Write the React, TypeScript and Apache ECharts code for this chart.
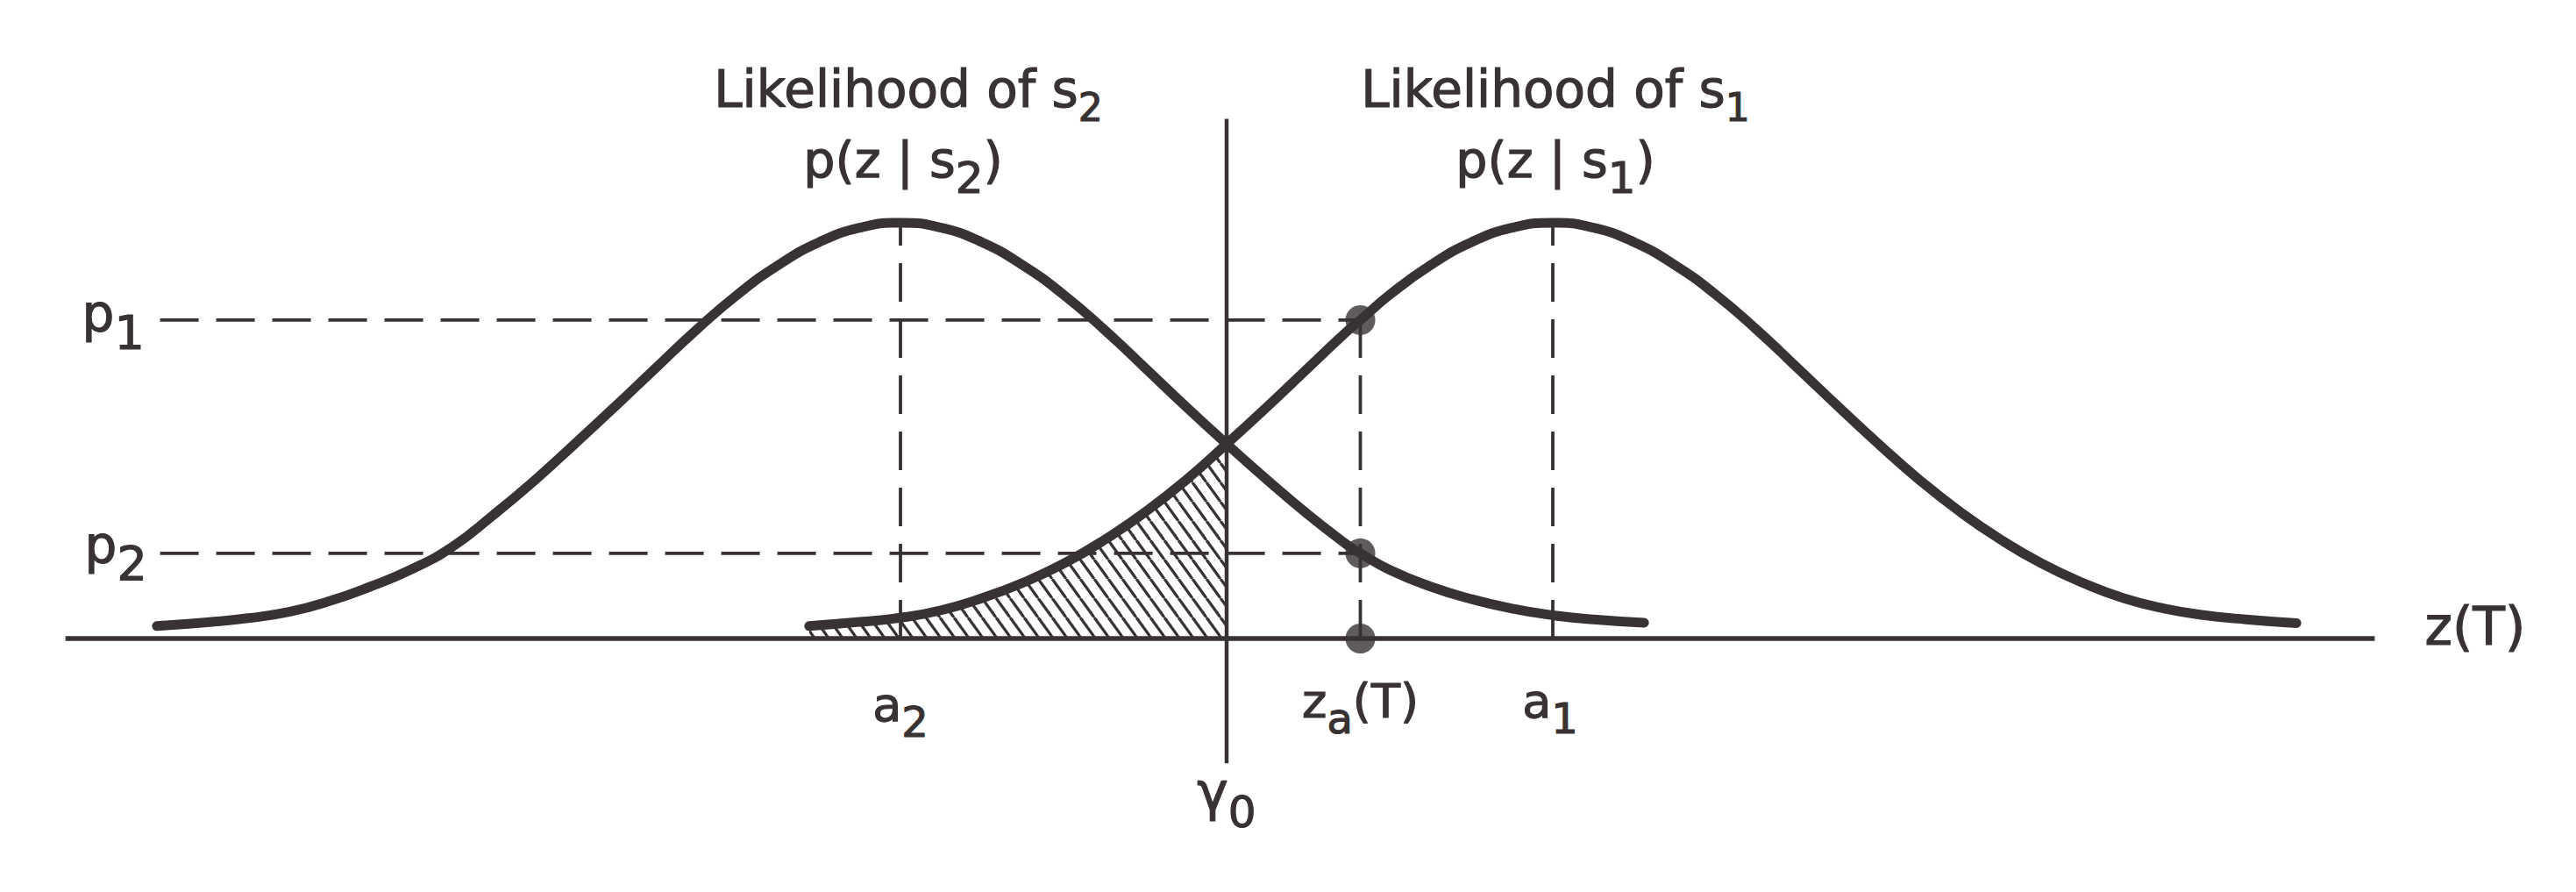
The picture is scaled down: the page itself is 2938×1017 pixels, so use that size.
import React, { useEffect, useRef } from 'react';
import * as echarts from 'echarts';

const INK = '#383233';
const FONT = '"DejaVu Sans", "Liberation Sans", sans-serif';

// decision axis z(T): threshold gamma0 = 0, means a2 = -1, a1 = +1
const A2 = -1.0;
const A1 = 1.0;
const GAMMA0 = 0;
const ZA = 0.41;
const P1 = 0.766;
const P2 = 0.205;
const PEAK = 1.0;

// likelihood of s2, p(z|s2)
const S2_Z = [-3.28, -3.125, -3.0, -2.875, -2.75, -2.625, -2.5, -2.375, -2.25, -2.125, -2.0, -1.875, -1.75, -1.625, -1.5, -1.375, -1.25, -1.125, -1.0, -0.875, -0.75, -0.625, -0.5, -0.375, -0.25, -0.125, 0, 0.125, 0.25, 0.375, 0.41, 0.5, 0.625, 0.75, 0.875, 1.0, 1.125, 1.28];
const S2_P = [0.030, 0.039, 0.049, 0.064, 0.090, 0.125, 0.166, 0.220, 0.296, 0.378, 0.467, 0.558, 0.651, 0.743, 0.827, 0.898, 0.953, 0.988, 1.0, 0.988, 0.953, 0.898, 0.827, 0.743, 0.651, 0.558, 0.468, 0.381, 0.298, 0.222, 0.205, 0.165, 0.125, 0.095, 0.072, 0.056, 0.046, 0.038];
// likelihood of s1, p(z|s1)
const S1_Z = [-1.28, -1.125, -1.0, -0.875, -0.75, -0.625, -0.5, -0.375, -0.25, -0.125, 0, 0.125, 0.25, 0.375, 0.41, 0.5, 0.625, 0.75, 0.875, 1.0, 1.125, 1.25, 1.375, 1.5, 1.625, 1.75, 1.875, 2.0, 2.125, 2.25, 2.375, 2.5, 2.625, 2.75, 2.875, 3.0, 3.125, 3.28];
const S1_P = [0.030, 0.040, 0.050, 0.068, 0.097, 0.134, 0.180, 0.237, 0.304, 0.381, 0.468, 0.558, 0.651, 0.743, 0.766, 0.827, 0.898, 0.953, 0.988, 1.0, 0.988, 0.953, 0.898, 0.827, 0.743, 0.651, 0.558, 0.467, 0.381, 0.304, 0.237, 0.180, 0.134, 0.097, 0.072, 0.056, 0.046, 0.037];

// drawn axis extents
const Z_AXIS = [-3.56, 3.52];
const GAMMA_LINE = [-0.3, 1.25];
const P_LINE_START = -3.27;

// label texts: [main, subscript, tail]
const TITLE_S2 = ['Likelihood of s', '2', ''];
const TITLE_S1 = ['Likelihood of s', '1', ''];
const PDF_S2 = ['p(z | s', '2', ')'];
const PDF_S1 = ['p(z | s', '1', ')'];
const LBL_P1 = ['p', '1', ''];
const LBL_P2 = ['p', '2', ''];
const LBL_A2 = ['a', '2', ''];
const LBL_A1 = ['a', '1', ''];
const LBL_ZA = ['z', 'a', '(T)'];
const LBL_G0 = ['\u03B3', '0', ''];
const LBL_Z = ['z(T)', '', ''];

const pairs = (xs: number[], ys: number[]) => xs.map((x, i) => [x, ys[i]]);

const HATCH_W = 16;
const HATCH_H = 22;
function makeHatch() {
  const w = HATCH_W;
  const h = HATCH_H;
  const c = document.createElement('canvas');
  c.width = w;
  c.height = h;
  const ctx = c.getContext('2d')!;
  ctx.strokeStyle = INK;
  ctx.lineWidth = 3.3;
  for (const dx of [-w, 0, w]) {
    ctx.beginPath();
    ctx.moveTo(dx, 0);
    ctx.lineTo(dx + w, h);
    ctx.stroke();
  }
  return c;
}

const measureCanvas = typeof document !== 'undefined' ? document.createElement('canvas') : null;
function textWidth(t: string, size: number) {
  if (!t) return 0;
  const ctx = measureCanvas!.getContext('2d')!;
  ctx.font = `${size}px ${FONT}`;
  return ctx.measureText(t).width;
}

type LabelSpec = {
  parts: string[];
  main: number;
  sub: number;
  subDy: number;
  x: number;
  baseline: number;
  align: 'center' | 'left';
};

function buildLabel(spec: LabelSpec) {
  const segs = [
    { t: spec.parts[0], size: spec.main, dy: 0 },
    { t: spec.parts[1], size: spec.sub, dy: spec.subDy },
    { t: spec.parts[2], size: spec.main, dy: 0 },
  ].filter((s) => s.t);
  const widths = segs.map((s) => textWidth(s.t, s.size));
  const total = widths.reduce((a, b) => a + b, 0);
  let x = spec.align === 'center' ? spec.x - total / 2 : spec.x;
  return segs.map((s, i) => {
    const el = {
      type: 'text',
      x,
      y: spec.baseline + s.dy - 0.35 * s.size,
      silent: true,
      style: {
        text: s.t,
        font: `${s.size}px ${FONT}`,
        fill: INK,
        stroke: INK,
        lineWidth: 1.2,
        align: 'left',
        verticalAlign: 'middle',
        textAlign: 'left',
        textVerticalAlign: 'middle',
      },
    };
    x += widths[i];
    return el;
  });
}

export default function App() {
  const ref = useRef<HTMLDivElement>(null);

  useEffect(() => {
    document.body.style.margin = '0';
    document.body.style.overflow = 'hidden';
    const chart = echarts.init(ref.current!, undefined, { renderer: 'svg' });

    const s1 = pairs(S1_Z, S1_P);
    const s2 = pairs(S2_Z, S2_P);
    const hatched = s1.filter((p) => p[0] <= GAMMA0);
    const dash = { color: INK, width: 3.8, type: [44, 20] as any };
    const seg = (name: string, data: number[][], lineStyle: any, z = 2) => ({
      name,
      type: 'line',
      data,
      symbol: 'none',
      silent: true,
      lineStyle,
      z,
    });

    chart.setOption({
      animation: false,
      backgroundColor: '#ffffff',
      grid: { left: 59.8, right: 51, top: 17, bottom: 52 },
      xAxis: { type: 'value', min: -3.6, max: 4.0, show: false },
      yAxis: { type: 'value', min: -0.5, max: 1.5, show: false },
      series: [
        {
          name: 'P(H1|s2) area',
          type: 'line',
          data: hatched,
          smooth: 0.5,
          symbol: 'none',
          silent: true,
          lineStyle: { width: 0 },
          areaStyle: {
            color: { image: makeHatch(), repeat: 'repeat', imageWidth: HATCH_W, imageHeight: HATCH_H },
            opacity: 1,
          },
          z: 1,
        },
        seg('z axis', [[Z_AXIS[0], 0], [Z_AXIS[1], 0]], { color: INK, width: 5.5 }),
        seg('gamma0', [[GAMMA0, GAMMA_LINE[0]], [GAMMA0, GAMMA_LINE[1]]], { color: INK, width: 4.5 }),
        seg('p1', [[P_LINE_START, P1], [ZA, P1]], dash),
        seg('p2', [[P_LINE_START, P2], [ZA, P2]], dash),
        seg('za', [[ZA, 0], [ZA, P1]], dash),
        seg('a2', [[A2, 0], [A2, PEAK]], dash),
        seg('a1', [[A1, 0], [A1, PEAK]], dash),
        {
          name: 'p(z|s2)',
          type: 'line',
          data: s2,
          smooth: 0.5,
          symbol: 'none',
          silent: true,
          lineStyle: { color: INK, width: 11, cap: 'round', join: 'round' },
          z: 3,
        },
        {
          name: 'p(z|s1)',
          type: 'line',
          data: s1,
          smooth: 0.5,
          symbol: 'none',
          silent: true,
          lineStyle: { color: INK, width: 11, cap: 'round', join: 'round' },
          z: 3,
        },
        {
          name: 'points',
          type: 'scatter',
          data: [[ZA, P1], [ZA, P2], [ZA, 0]],
          symbol: 'circle',
          symbolSize: 34,
          silent: true,
          itemStyle: { color: INK },
          z: 4,
        },
      ],
    });

    const px = (x: number, y: number) => chart.convertToPixel({ gridIndex: 0 }, [x, y]) as number[];
    const [xa2, yPeak] = px(A2, PEAK);
    const [xa1] = px(A1, PEAK);
    const [xza, y0] = px(ZA, 0);
    const [xg] = px(GAMMA0, 0);
    const [xStart, yp1] = px(P_LINE_START, P1);
    const [, yp2] = px(P_LINE_START, P2);
    const [xAxisEnd] = px(Z_AXIS[1], 0);

    const labels: LabelSpec[] = [
      { parts: TITLE_S2, main: 58, sub: 44, subDy: 16, x: xa2 + 9, baseline: yPeak - 132, align: 'center' },
      { parts: PDF_S2, main: 57, sub: 50, subDy: 18, x: xa2 + 3, baseline: yPeak - 52, align: 'center' },
      { parts: TITLE_S1, main: 58, sub: 44, subDy: 16, x: xa1 + 3, baseline: yPeak - 132, align: 'center' },
      { parts: PDF_S1, main: 57, sub: 50, subDy: 18, x: xa1 + 3, baseline: yPeak - 52, align: 'center' },
      { parts: LBL_P1, main: 58, sub: 54, subDy: 20, x: xStart - 89, baseline: yp1 + 13, align: 'left' },
      { parts: LBL_P2, main: 58, sub: 54, subDy: 20, x: xStart - 86, baseline: yp2 + 11, align: 'left' },
      { parts: LBL_A2, main: 54, sub: 48, subDy: 18, x: xa2, baseline: y0 + 94, align: 'center' },
      { parts: LBL_ZA, main: 54, sub: 48, subDy: 18, x: xza, baseline: y0 + 90, align: 'center' },
      { parts: LBL_A1, main: 54, sub: 48, subDy: 18, x: xa1 - 3, baseline: y0 + 90, align: 'center' },
      { parts: LBL_G0, main: 60, sub: 50, subDy: 20, x: xg, baseline: y0 + 195, align: 'center' },
      { parts: LBL_Z, main: 60, sub: 0, subDy: 0, x: xAxisEnd + 57, baseline: y0 + 7, align: 'left' },
    ];

    chart.setOption({ graphic: labels.flatMap(buildLabel) });

    return () => chart.dispose();
  }, []);

  return (
    <div
      ref={ref}
      style={{ position: 'absolute', left: 0, top: 0, width: 2938, height: 1017 }}
    />
  );
}
